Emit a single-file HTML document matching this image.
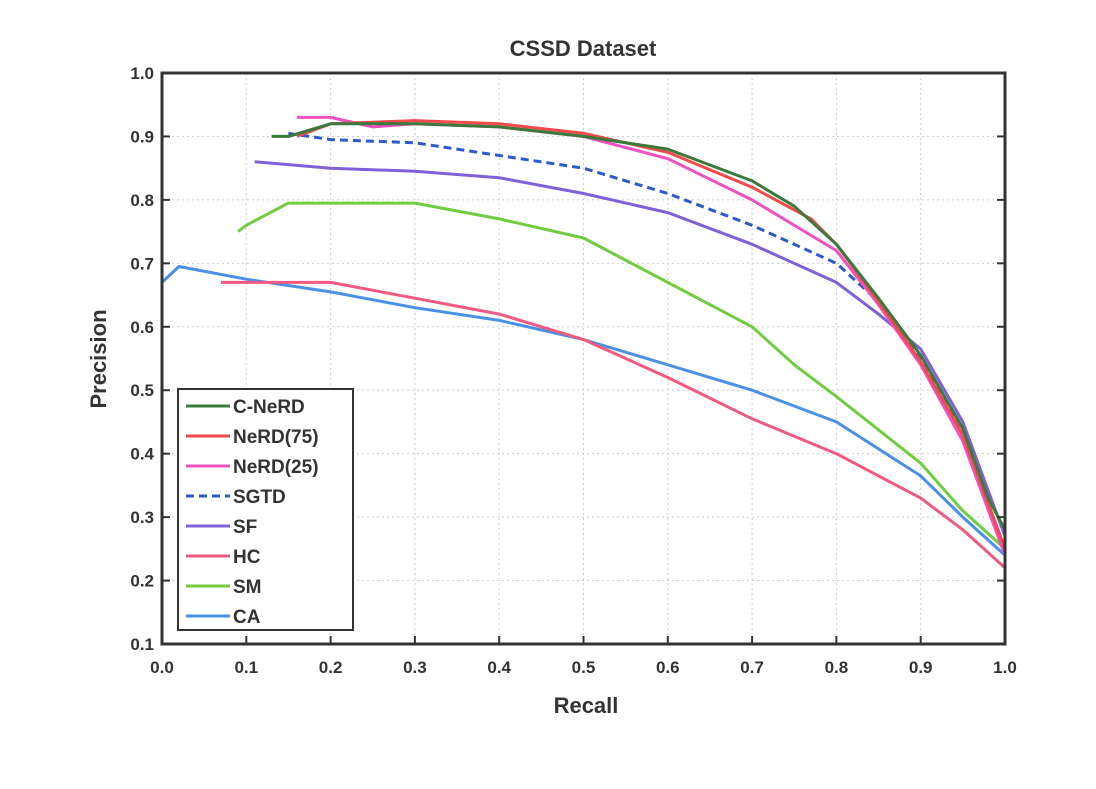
<!DOCTYPE html>
<html><head><meta charset="utf-8"><style>
body{margin:0;background:#fff}
svg text{font-family:"Liberation Sans",sans-serif;font-weight:bold;fill:#333}
</style></head><body>
<svg width="1096" height="784" xmlns="http://www.w3.org/2000/svg" id="chart">
<text x="583" y="56" font-size="22" text-anchor="middle">CSSD Dataset</text>
<text x="586" y="713" font-size="22" text-anchor="middle">Recall</text>
<text x="106" y="359" font-size="22" text-anchor="middle" transform="rotate(-90 106 359)">Precision</text>
<g id="grid"></g><g id="series"></g><g id="axes"></g><g id="legend"></g>
</svg>
<script>
const xTicks=["0.0","0.1","0.2","0.3","0.4","0.5","0.6","0.7","0.8","0.9","1.0"];
const yTicks=["0.1","0.2","0.3","0.4","0.5","0.6","0.7","0.8","0.9","1.0"];
const names=["C-NeRD","NeRD(75)","NeRD(25)","SGTD","SF","HC","SM","CA"];
const colors=["#3a7a3a","#f04a4a","#f050c0","#2a5acc","#8060d8","#f05a80","#70cc40","#4a90e8"];
const recC=[0.13,0.15,0.2,0.3,0.4,0.5,0.6,0.7,0.75,0.8,0.85,0.9,0.95,0.98,1.0];
const precC=[0.90,0.90,0.92,0.92,0.915,0.90,0.88,0.83,0.79,0.73,0.645,0.555,0.44,0.33,0.28];
const rec75=[0.16,0.2,0.3,0.4,0.5,0.6,0.7,0.77,0.8,0.85,0.9,0.95,1.0];
const prec75=[0.90,0.92,0.925,0.92,0.905,0.875,0.82,0.77,0.73,0.64,0.545,0.43,0.25];
const rec25=[0.16,0.2,0.25,0.3,0.4,0.5,0.6,0.7,0.8,0.85,0.9,0.95,1.0];
const prec25=[0.93,0.93,0.915,0.92,0.915,0.9,0.865,0.80,0.72,0.635,0.54,0.42,0.24];
const recSG=[0.15,0.2,0.3,0.4,0.5,0.6,0.7,0.8,0.85,0.9,0.95,1.0];
const precSG=[0.905,0.895,0.89,0.87,0.85,0.81,0.76,0.70,0.64,0.55,0.43,0.24];
const recSF=[0.11,0.2,0.3,0.4,0.5,0.6,0.7,0.8,0.85,0.9,0.95,1.0];
const precSF=[0.86,0.85,0.845,0.835,0.81,0.78,0.73,0.67,0.62,0.565,0.45,0.27];
const recHC=[0.07,0.1,0.2,0.3,0.4,0.5,0.6,0.7,0.8,0.9,0.95,1.0];
const precHC=[0.67,0.67,0.67,0.645,0.62,0.58,0.52,0.455,0.40,0.33,0.28,0.22];
const recSM=[0.09,0.1,0.15,0.3,0.4,0.5,0.6,0.7,0.75,0.8,0.9,0.95,1.0];
const precSM=[0.75,0.76,0.795,0.795,0.77,0.74,0.67,0.60,0.54,0.49,0.385,0.31,0.25];
const recCA=[0.0,0.02,0.1,0.2,0.3,0.4,0.5,0.6,0.7,0.8,0.9,0.95,1.0];
const precCA=[0.67,0.695,0.675,0.655,0.63,0.61,0.58,0.54,0.50,0.45,0.365,0.30,0.24];
const L=162,R=1005,T=73,B=644;
const X=v=>L+v*(R-L), Y=v=>B-(v-0.1)/0.9*(B-T);
const NS="http://www.w3.org/2000/svg";
function mk(t,a,p){const e=document.createElementNS(NS,t);for(const k in a)e.setAttribute(k,a[k]);p.appendChild(e);return e;}
const grid=document.getElementById('grid'),axes=document.getElementById('axes'),ser=document.getElementById('series'),leg=document.getElementById('legend');
xTicks.forEach(t=>{const v=parseFloat(t),x=X(v);
 const g=mk('line',{x1:x,x2:x,y1:T,y2:B,stroke:'#ccd',"stroke-dasharray":"2 3","stroke-width":1},grid);
 
 const tk=mk('line',{x1:x,x2:x,y1:B,y2:B-8,stroke:'#333',"stroke-width":2},axes);
 
 const tt=mk('text',{x:x,y:B+29,"font-size":17,"text-anchor":"middle"},axes);tt.textContent=t;
 });
yTicks.forEach(t=>{const v=parseFloat(t),y=Y(v);
 const g=mk('line',{x1:L,x2:R,y1:y,y2:y,stroke:'#ccd',"stroke-dasharray":"2 3","stroke-width":1},grid);
 
 const tk=mk('line',{x1:L,x2:L+8,y1:y,y2:y,stroke:'#333',"stroke-width":2},axes);
 
 const tk2=mk('line',{x1:R,x2:R-8,y1:y,y2:y,stroke:'#333',"stroke-width":2},axes);
 
 const tt=mk('text',{x:L-8,y:y+6,"font-size":17,"text-anchor":"end"},axes);tt.textContent=t;
 });
const box=mk('rect',{x:L,y:T,width:R-L,height:B-T,fill:'none',stroke:'#333',"stroke-width":3},axes);

const data=[[recC,precC],[rec75,prec75],[rec25,prec25],[recSG,precSG],[recSF,precSF],[recHC,precHC],[recSM,precSM],[recCA,precCA]];
const order=[7,6,5,4,3,2,1,0];
order.forEach(i=>{const [r,p]=data[i];
 const d=r.map((v,j)=>(j?'L':'M')+X(v).toFixed(1)+','+Y(p[j]).toFixed(1)).join(' ');
 const a={d:d,fill:'none',stroke:colors[i],"stroke-width":3,"stroke-linejoin":"round"};
 if(i===3)a["stroke-dasharray"]="8 5";
 const e=mk('path',a,ser);
 
 });
const lb=mk('rect',{x:178,y:389,width:175,height:241,fill:'#fff',stroke:'#333',"stroke-width":2},leg);

names.forEach((n,i)=>{const y=406+i*30;
 const a={x1:186,x2:230,y1:y,y2:y,stroke:colors[i],"stroke-width":3};if(i===3)a["stroke-dasharray"]="8 5";
 const l=mk('line',a,leg);
 const t=mk('text',{x:233,y:y+7,"font-size":19},leg);t.textContent=n;
 });
</script>
</body></html>
